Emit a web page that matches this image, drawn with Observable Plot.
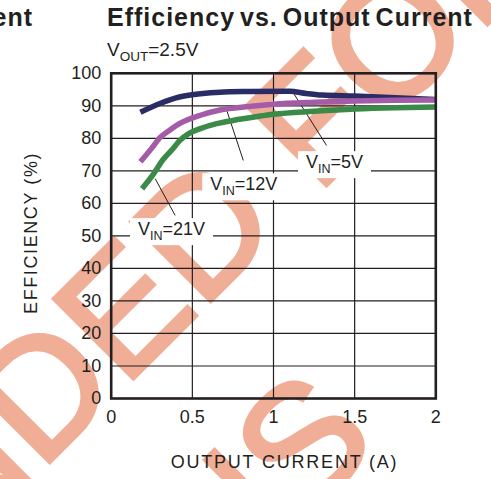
<!DOCTYPE html>
<html><head><meta charset="utf-8">
<script src="https://cdn.jsdelivr.net/npm/d3@7"></script>
<script src="https://cdn.jsdelivr.net/npm/@observablehq/plot@0.6"></script>
<style>
html,body{margin:0;padding:0;background:#fff;}
body{width:491px;height:479px;overflow:hidden;position:relative;font-family:"Liberation Sans",Arial,Helvetica,sans-serif;color:#231f20;}
#wm{position:absolute;left:0;top:0;z-index:0;}
#header{position:relative;height:62px;z-index:1;}
.ttl{position:absolute;top:5px;font-weight:bold;font-size:25px;line-height:25px;white-space:nowrap;letter-spacing:1px;word-spacing:-3px;}
#title{left:107px;}
#prev{right:458px;}
#subtitle{position:absolute;left:107px;top:40px;font-size:19px;line-height:19px;white-space:nowrap;}
#subtitle sub{font-size:13.5px;vertical-align:-5px;line-height:0;}
#chart{position:relative;z-index:1;}
</style></head>
<body>
<svg id="wm" width="491" height="479">
 <g font-family="Liberation Sans, Arial, sans-serif" font-size="164" fill="#f0ae97" stroke="#f0ae97" stroke-width="4">
  <text text-anchor="end" transform="translate(285,227) rotate(-45)">NOT RECOMMENDED</text>
  <text transform="translate(317,195) rotate(-45)">FOR NEW</text>
  <text text-anchor="end" transform="translate(381,443) rotate(-45)">DESIGNS</text>
 </g>
</svg>
<div id="header">
  <div id="prev" class="ttl">Output Current</div>
  <div id="title" class="ttl">Efficiency vs. Output Current</div>
  <div id="subtitle">V<sub>OUT</sub>=2.5V</div>
</div>
<div id="chart"></div>
<script>
// ---- data ----
const xTicks = [0, 0.5, 1, 1.5, 2];
const xTickLabels = ["0", "0.5", "1", "1.5", "2"];
const yTicks = [0, 10, 20, 30, 40, 50, 60, 70, 80, 90, 100];
const xLabel = "OUTPUT CURRENT (A)";
const yLabel = "EFFICIENCY (%)";

const vin5Current = [0.18, 0.30, 0.42, 0.55, 0.67, 0.85, 1.10, 1.20, 1.30, 1.50, 1.75, 2.00];
const vin5Eff     = [88.0, 90.7, 92.7, 93.7, 94.2, 94.4, 94.5, 93.8, 93.3, 93.0, 92.5, 91.9];

const vin12Current = [0.18, 0.25, 0.30, 0.36, 0.42, 0.55, 0.67, 0.85, 1.00, 1.25, 1.50, 1.75, 2.00];
const vin12Eff     = [72.8, 77.0, 80.2, 82.5, 84.5, 87.1, 88.7, 89.8, 90.5, 91.1, 91.5, 91.7, 91.8];

const vin21Current = [0.19, 0.26, 0.32, 0.38, 0.42, 0.48, 0.55, 0.65, 0.75, 0.90, 1.00, 1.25, 1.50, 1.75, 2.00];
const vin21Eff     = [64.5, 69.0, 73.5, 76.8, 79.2, 81.5, 83.0, 84.5, 85.5, 86.7, 87.4, 88.3, 89.0, 89.4, 89.6];

const seriesNames  = ["VIN=5V", "VIN=12V", "VIN=21V"];
const seriesColors = ["#2a2c66", "#a55ca8", "#3b8a47"];

// annotation labels (data units) and leader lines
const labelX    = [1.20, 0.61, 0.165];
const labelY    = [72.6, 65.8, 52.0];
const labelMain = ["V", "V", "V"];
const labelSub  = ["IN", "IN", "IN"];
const labelRest = ["=5V", "=12V", "=21V"];
const leaderX1 = [1.112, 0.712, 0.271];
const leaderY1 = [94.8, 88.6, 67.6];
const leaderX2 = [1.327, 0.814, 0.394];
const leaderY2 = [77.8, 73.2, 56.3];

// ---- build tables ----
const rows = [];
[[vin5Current, vin5Eff], [vin12Current, vin12Eff], [vin21Current, vin21Eff]].forEach(([xs, ys], k) => {
  xs.forEach((x, i) => rows.push({series: seriesNames[k], x, y: ys[i]}));
});
const labels = labelX.map((x, i) => ({x, y: labelY[i], main: labelMain[i], sub: labelSub[i], rest: labelRest[i]}));
const leaders = leaderX1.map((x1, i) => ({x1, y1: leaderY1[i], x2: leaderX2[i], y2: leaderY2[i]}));

const ink = "#231f20";
const plot = Plot.plot({
  width: 491, height: 417,
  marginTop: 10.8, marginBottom: 81, marginLeft: 110.7, marginRight: 55.7,
  style: "background:transparent;font-family:'Liberation Sans',Arial,sans-serif;font-size:18px;color:#231f20;overflow:visible;",
  x: {domain: [0, 2]},
  y: {domain: [0, 100]},
  color: {domain: seriesNames, range: seriesColors},
  marks: [
    Plot.gridX(xTicks, {stroke: ink, strokeOpacity: 1, strokeWidth: 1.2}),
    Plot.gridY(yTicks, {stroke: ink, strokeOpacity: 1, strokeWidth: 1.2}),
    Plot.axisX(xTicks, {tickSize: 0, tickPadding: 12, label: null, tickFormat: d => xTickLabels[xTicks.indexOf(d)]}),
    Plot.axisY(yTicks, {tickSize: 0, tickPadding: 10, label: null}),
    Plot.link(leaders, {x1: "x1", y1: "y1", x2: "x2", y2: "y2", stroke: ink, strokeWidth: 1}),
    Plot.line(rows, {x: "x", y: "y", z: "series", stroke: "series", strokeWidth: 5.5, curve: "monotone-x", strokeLinecap: "butt", strokeLinejoin: "round"}),
    Plot.frame({stroke: ink, strokeWidth: 2.6}),
    Plot.text(labels, {x: "x", y: "y", text: d => d.main + d.sub + d.rest, textAnchor: "start", lineAnchor: "middle", fill: ink}),
    Plot.text([xLabel], {text: d => d, frameAnchor: "bottom", textAnchor: "middle", lineAnchor: "middle", dx: 11, dy: 64, fill: ink}),
    Plot.text([yLabel], {text: d => d, frameAnchor: "left", textAnchor: "middle", lineAnchor: "middle", dx: -80, dy: -3, rotate: -90, fill: ink})
  ]
});
document.getElementById("chart").appendChild(plot);

// subscripts and white boxes behind the annotation labels
const labelStrings = labels.map(l => l.main + l.sub + l.rest);
d3.select(plot).selectAll("text").each(function() {
  const node = this;
  const s = node.textContent;
  if (s === xLabel || s === yLabel) {
    const ls = s === xLabel ? "1.8px" : "1.6px";
    node.setAttribute("letter-spacing", ls);
    node.style.letterSpacing = ls;
    return;
  }
  const i = labelStrings.indexOf(s);
  if (i < 0) return;
  const lab = labels[i];
  const t = d3.select(node);
  t.text(null);
  t.append("tspan").text(lab.main);
  t.append("tspan").attr("font-size", 12.5).attr("dy", 5).text(lab.sub);
  t.append("tspan").attr("dy", -5).text(lab.rest);
  const b = node.getBBox();
  const rect = document.createElementNS("http://www.w3.org/2000/svg", "rect");
  const tr = node.getAttribute("transform");
  if (tr) rect.setAttribute("transform", tr);
  rect.setAttribute("x", b.x - 8);
  rect.setAttribute("y", b.y - 1);
  rect.setAttribute("width", b.width + 16);
  rect.setAttribute("height", b.height + 3);
  rect.setAttribute("fill", "white");
  rect.setAttribute("stroke", "none");
  node.parentNode.insertBefore(rect, node);
});
</script>
</body></html>
